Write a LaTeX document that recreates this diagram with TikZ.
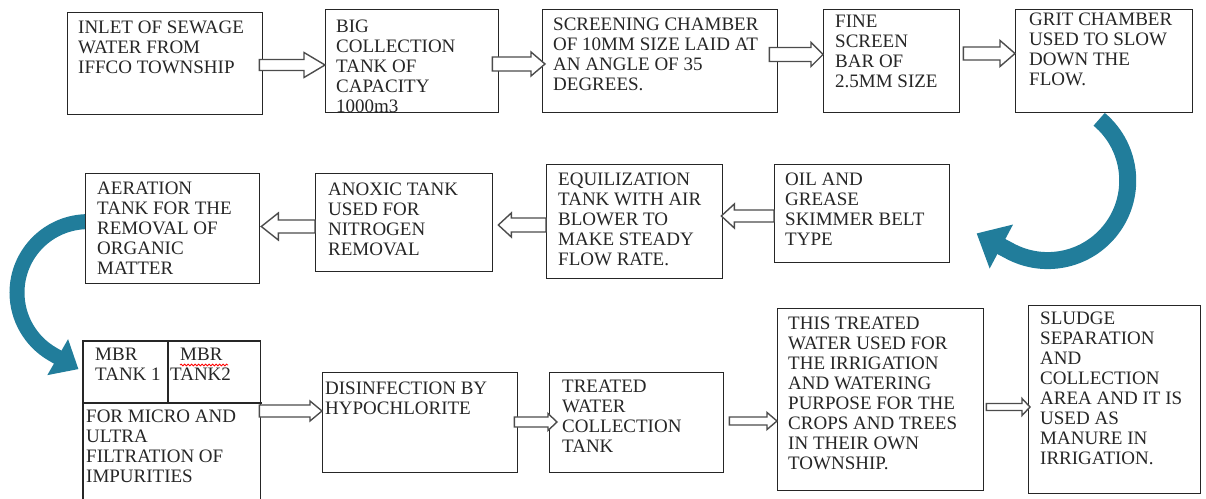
\documentclass[tikz,border=0pt]{standalone}
\usepackage{fontspec}
\setmainfont{Liberation Serif}
\usetikzlibrary{calc,arrows.meta,decorations.pathmorphing}
\definecolor{curv}{RGB}{33,125,155}
\pgfdeclarelayer{bg}
\pgfsetlayers{bg,main}
\tikzset{
 box/.style={draw=black!85, line width=1.3bp, fill=white, inner sep=0pt, anchor=north west},
 txt/.style={anchor=north west, inner sep=0pt, align=left, text=black!85, font=\fontsize{19bp}{19.9bp}\selectfont},
 blockarr/.style={draw=black!70, line width=1.4bp, fill=white, line join=miter},
 curvarr/.style={draw=curv, line cap=butt},
}
\newcommand\harrow[5]{\draw[blockarr] let \p1=#1, \p2=#2, \n1={sign(\x2-\x1)} in (\x1,\y1+#3) -- (\x2-\n1*#5,\y1+#3) -- (\x2-\n1*#5,\y1+#4) -- (\x2,\y1) -- (\x2-\n1*#5,\y1-#4) -- (\x2-\n1*#5,\y1-#3) -- (\x1,\y1-#3) -- cycle;}
\begin{document}
\begin{tikzpicture}[x=1bp,y=1bp]
\useasboundingbox (0,0) rectangle (1206,-499);
% row 1
\node[box, minimum width=195bp, minimum height=102bp] (b1) at (67,-12) {};
\node[box, minimum width=173bp, minimum height=103bp] (b2) at (325,-9) {};
\node[box, minimum width=235bp, minimum height=103bp] (b3) at (542,-9) {};
\node[box, minimum width=136bp, minimum height=103bp] (b4) at (823,-9) {};
\node[box, minimum width=177bp, minimum height=103bp] (b5) at (1015,-9) {};
% row 2
\node[box, minimum width=175bp, minimum height=98bp] (b6) at (774,-164) {};
\node[box, minimum width=176bp, minimum height=114bp] (b7) at (546,-164) {};
\node[box, minimum width=177bp, minimum height=98bp] (b8) at (315,-173) {};
\node[box, minimum width=174bp, minimum height=110bp] (b9) at (85,-173) {};
% row 3
\node[box, draw=none, minimum width=176bp, minimum height=160bp] (mbr) at (83,-341) {};
\draw[line width=1.3bp, draw=black!85] (mbr.south west) -- (mbr.north west) -- (mbr.north east) -- (mbr.south east);
\draw[line width=1.3bp, draw=black!85] (mbr.north west |- 0,-403) -- ($(mbr.north east |- 0,-403)+(2,0)$);
\draw[line width=1.3bp, draw=black!85] ($(mbr.north west)+(85,0)$) -- ++(0,-62);
\node[box, minimum width=195bp, minimum height=100bp] (b11) at (322,-372) {};
\node[box, minimum width=174bp, minimum height=100bp] (b12) at (549,-372) {};
\node[box, minimum width=206bp, minimum height=182bp] (b13) at (777,-308) {};
\node[box, minimum width=172bp, minimum height=188bp] (b14) at (1028,-305) {};
% texts
\node[txt] (t1) at ($(b1.north west)+(11,-9)$) {INLET OF SEWAGE\\WATER FROM\\IFFCO TOWNSHIP};
\node[txt] (t2) at ($(b2.north west)+(11,-11)$) {BIG\\COLLECTION\\TANK OF\\CAPACITY\\1000m3};
\node[txt] (t3) at ($(b3.north west)+(11,-9)$) {SCREENING CHAMBER\\OF 10MM SIZE LAID AT\\AN ANGLE OF 35\\DEGREES.};
\node[txt] (t4) at ($(b4.north west)+(12,-6)$) {FINE\\SCREEN\\BAR OF\\2.5MM SIZE};
\node[txt] (t5) at ($(b5.north west)+(14,-4)$) {GRIT CHAMBER\\USED TO SLOW\\DOWN THE\\FLOW.};
\node[txt] (t6) at ($(b6.north west)+(11,-9)$) {OIL AND\\GREASE\\SKIMMER BELT\\TYPE};
\node[txt] (t7) at ($(b7.north west)+(12,-9)$) {EQUILIZATION\\TANK WITH AIR\\BLOWER TO\\MAKE STEADY\\FLOW RATE.};
\node[txt] (t8) at ($(b8.north west)+(13,-10)$) {ANOXIC TANK\\USED FOR\\NITROGEN\\REMOVAL};
\node[txt] (t9) at ($(b9.north west)+(12,-9)$) {AERATION\\TANK FOR THE\\REMOVAL OF\\ORGANIC\\MATTER};
\node[txt] (t10a) at ($(mbr.north west)+(12,-7)$) {MBR\\TANK 1};
\node[txt] (t10b) at ($(mbr.north west)+(87,-7)$) {\hspace*{10bp}MBR\\TANK2};
\node[txt] (t10c) at ($(mbr.north west)+(3,-69)$) {FOR MICRO AND\\ULTRA\\FILTRATION OF\\IMPURITIES};
\draw[red, line width=0.8bp, decorate, decoration={snake, amplitude=0.9bp, segment length=3.5bp}] ($(mbr.north west)+(97,-24)$) -- ++(48,0);
\node[txt] (t11) at ($(b11.north west)+(3,-10)$) {DISINFECTION BY\\HYPOCHLORITE};
\node[txt] (t12) at ($(b12.north west)+(13,-8)$) {TREATED\\WATER\\COLLECTION\\TANK};
\node[txt] (t13) at ($(b13.north west)+(11,-9)$) {THIS TREATED\\WATER USED FOR\\THE IRRIGATION\\AND WATERING\\PURPOSE FOR THE\\CROPS AND TREES\\IN THEIR OWN\\TOWNSHIP.};
\node[txt] (t14) at ($(b14.north west)+(12,-7)$) {SLUDGE\\SEPARATION\\AND\\COLLECTION\\AREA AND IT IS\\USED AS\\MANURE IN\\IRRIGATION.};
% block arrows
\harrow{($(b1.east |- 0,-65)+(-4,0)$)}{(b2.west |- 0,-65)}{5.5bp}{12.5bp}{21bp}
\harrow{($(b2.east |- 0,-64)+(-7,0)$)}{($(b3.west |- 0,-64)+(3,0)$)}{7bp}{12bp}{14bp}
\harrow{($(b3.east |- 0,-54.5)+(-9,0)$)}{(b4.west |- 0,-54.5)}{7bp}{12bp}{12bp}
\harrow{($(b4.east |- 0,-53.5)+(3,0)$)}{(b5.west |- 0,-53.5)}{6.5bp}{13bp}{15bp}
\harrow{(b6.west |- 0,-216)}{($(b7.east |- 0,-216)+(-2,0)$)}{6bp}{12bp}{13bp}
\harrow{(b7.west |- 0,-225)}{($(b8.east |- 0,-225)+(5,0)$)}{7bp}{12bp}{13bp}
\harrow{(b8.west |- 0,-226.5)}{($(b9.east |- 0,-226.5)+(1,0)$)}{6.5bp}{13.5bp}{17bp}
\harrow{($(mbr.east |- 0,-411)+(-1,0)$)}{(b11.west |- 0,-411)}{6bp}{10bp}{12bp}
\harrow{($(b11.east |- 0,-422)+(-4,0)$)}{($(b12.west |- 0,-422)+(8,0)$)}{5bp}{8.5bp}{9bp}
\harrow{($(b12.east |- 0,-421)+(5,0)$)}{(b13.west |- 0,-421)}{4bp}{8.5bp}{10bp}
\harrow{($(b13.east |- 0,-407)+(2,0)$)}{($(b14.west |- 0,-407)+(2,0)$)}{3.5bp}{8.5bp}{8bp}
% curved arrows
\begin{pgfonlayer}{bg}
\draw[curvarr, line width=17bp, -{Triangle[length=28bp,width=48bp]}] ($(b5.south)+(-5,-6)$) arc[start angle=50, end angle=-118, radius=80] -- ++(152:38);
\draw[curvarr, line width=15bp, -{Triangle[length=24bp,width=40bp]}] ($(b9.west)+(3,7)$) arc[start angle=90, end angle=240, radius=71] -- ++(-30:30);
\end{pgfonlayer}
\end{tikzpicture}
\end{document}
